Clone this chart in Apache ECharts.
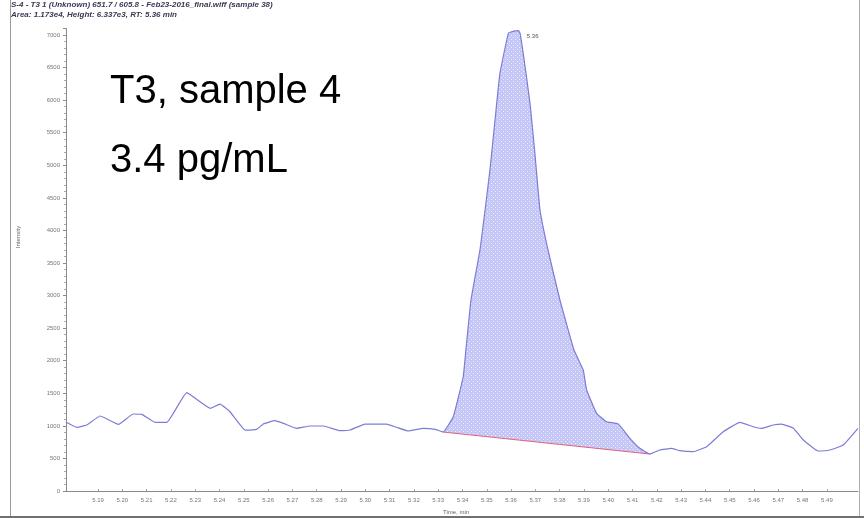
<!DOCTYPE html>
<html><head><meta charset="utf-8">
<script src="https://cdn.jsdelivr.net/npm/echarts@6/dist/echarts.min.js"></script>
<style>html,body{margin:0;padding:0;background:#fff}#c{width:864px;height:518px}</style>
</head><body><div id="c"></div>
<script>
// ---- data ----
const times = [5.1768,5.1812,5.1853,5.1908,5.1984,5.2045,5.2080,5.2135,5.2183,5.2265,5.2361,5.2402,5.2443,5.2505,5.2553,5.2580,5.2628,5.2663,5.2718,5.2772,5.2827,5.2896,5.2937,5.2999,5.3088,5.3129,5.3177,5.3239,5.3287,5.3321,5.3362,5.3403,5.3414,5.3435,5.3472,5.3493,5.3513,5.3534,5.3554,5.3589,5.3612,5.3630,5.3637,5.3650,5.3678,5.3698,5.3719,5.3752,5.3801,5.3859,5.3897,5.3911,5.3952,5.3993,5.4041,5.4089,5.4130,5.4171,5.4212,5.4260,5.4294,5.4349,5.4405,5.4473,5.4542,5.4597,5.4631,5.4679,5.4713,5.4762,5.4803,5.4864,5.4912,5.4967,5.5028];
const intensity = [1060,978,1013,1151,1024,1182,1177,1054,1054,1509,1269,1335,1217,936,947,1028,1079,1039,962,998,998,926,936,1028,1028,978,921,962,947,905,1140,1754,2164,2932,3700,4314,4928,5695,6410,7026,7060,7066,7026,6718,5951,5183,4314,3700,2932,2164,1857,1550,1192,1064,1028,809,655,568,629,655,619,603,680,910,1054,987,962,1013,1028,962,783,614,629,706,962];
const baselineTimes = [5.3321, 5.4171];
const baselineValues = [905, 568];
const xTickLabels = ['5.19','5.20','5.21','5.22','5.23','5.24','5.25','5.26','5.27','5.28','5.29','5.30','5.31','5.32','5.33','5.34','5.35','5.36','5.37','5.38','5.39','5.40','5.41','5.42','5.43','5.44','5.45','5.46','5.47','5.48','5.49'];
const peakLabel = '5.36';
const titleLines = ['S-4 - T3 1 (Unknown) 651.7 / 605.8 - Feb23-2016_final.wiff (sample 38)', 'Area: 1.173e4, Height: 6.337e3, RT: 5.36 min'];
const annotations = ['T3, sample 4', '3.4 pg/mL'];
const yAxisName = 'Intensity';
const xAxisName = 'Time, min';

// ---- build ----
const all = times.map((t, i) => [t, intensity[i]]);
const peak = all.filter(p => p[0] >= baselineTimes[0] && p[0] <= baselineTimes[1]);
const base = baselineTimes.map((t, i) => [t, baselineValues[i]]);
// white cover under the baseline, widened to the neighbouring curve points
const iStart = times.indexOf(baselineTimes[0]);
const iEnd = times.indexOf(baselineTimes[1]);
const cover = [all[iStart - 1]].concat(base, [all[iEnd + 1]]);

const cv = document.createElement('canvas');
cv.width = 4; cv.height = 4;
const cx = cv.getContext('2d');
cx.fillStyle = '#c4c7f5'; cx.fillRect(0, 0, 4, 4);
cx.fillStyle = '#eef0ff'; cx.fillRect(1, 1, 1, 1); cx.fillRect(3, 3, 1, 1);

const chart = echarts.init(document.getElementById('c'), null, {renderer: 'canvas'});
const FF = 'Liberation Sans, Arial, sans-serif';
const lblFont = {fontFamily: FF, fontSize: 6, color: '#777'};
chart.setOption({
  animation: false,
  backgroundColor: '#fff',
  grid: {left: 66, right: 6, top: 28.5, bottom: 27},
  xAxis: {
    type: 'value', min: 5.1768, max: 5.5028, z: 10,
    axisLine: {lineStyle: {color: '#8a8a8a', width: 1}},
    axisTick: {show: true, inside: true, length: 2, customValues: xTickLabels.map(Number), lineStyle: {color: '#aaa'}},
    axisLabel: Object.assign({customValues: xTickLabels.map(Number), formatter: v => v.toFixed(2), margin: 6}, lblFont),
    splitLine: {show: false}
  },
  yAxis: {
    type: 'value', min: 0, max: 7100, interval: 500, z: 10,
    axisLine: {show: true, lineStyle: {color: '#8a8a8a', width: 1}},
    axisTick: {show: true, length: 3, lineStyle: {color: '#8a8a8a'}},
    minorTick: {show: true, splitNumber: 5, length: 2, lineStyle: {color: '#aaa'}},
    axisLabel: Object.assign({margin: 6, showMaxLabel: false, formatter: v => String(v)}, lblFont),
    splitLine: {show: false}
  },
  series: [
    {
      type: 'line', data: peak, symbol: 'none', z: 2,
      lineStyle: {width: 0},
      areaStyle: {color: {image: cv, repeat: 'repeat'}, opacity: 1, origin: 'start'}
    },
    {
      type: 'line', data: cover, symbol: 'none', z: 3,
      lineStyle: {width: 0},
      areaStyle: {color: '#ffffff', opacity: 1, origin: 'start'}
    },
    {
      type: 'line', data: base, symbol: 'none', z: 3,
      lineStyle: {color: '#e4607c', width: 1}
    },
    {
      type: 'line', data: all, symbol: 'none', z: 4, smooth: 0.1,
      lineStyle: {color: '#7c7cd6', width: 1.2},
      markPoint: {
        symbol: 'circle', symbolSize: 1, itemStyle: {color: 'rgba(0,0,0,0)'},
        label: {show: true, position: 'right', formatter: peakLabel, fontSize: 6, color: '#555', offset: [3, 6], fontFamily: FF},
        data: [{type: 'max'}]
      }
    }
  ],
  graphic: [
    {type: 'line', shape: {x1: 10.5, y1: 0, x2: 10.5, y2: 518}, style: {stroke: '#9a9a9a', lineWidth: 1}},
    {type: 'line', shape: {x1: 859.5, y1: 0, x2: 859.5, y2: 518}, style: {stroke: '#b0b0b0', lineWidth: 1}},
    {type: 'line', shape: {x1: 0, y1: 517, x2: 864, y2: 517}, style: {stroke: '#707070', lineWidth: 2}},
    {type: 'text', left: 11, top: 1, style: {text: titleLines[0], font: 'italic bold 8px ' + FF, fill: '#3a3a55'}},
    {type: 'text', left: 11, top: 11, style: {text: titleLines[1], font: 'italic bold 8px ' + FF, fill: '#3a3a55'}},
    {type: 'text', x: 18, y: 237, rotation: Math.PI / 2, style: {text: yAxisName, font: '6px ' + FF, fill: '#666', align: 'center', verticalAlign: 'middle'}},
    {type: 'text', x: 443, y: 512, style: {text: xAxisName, font: '6px ' + FF, fill: '#666', align: 'left', verticalAlign: 'middle'}},
    {type: 'text', x: 110, y: 92, style: {text: annotations[0], font: '40px ' + FF, fill: '#000', align: 'left', verticalAlign: 'middle'}},
    {type: 'text', x: 110, y: 161, style: {text: annotations[1], font: '40px ' + FF, fill: '#000', align: 'left', verticalAlign: 'middle'}}
  ]
});
</script>
</body></html>
